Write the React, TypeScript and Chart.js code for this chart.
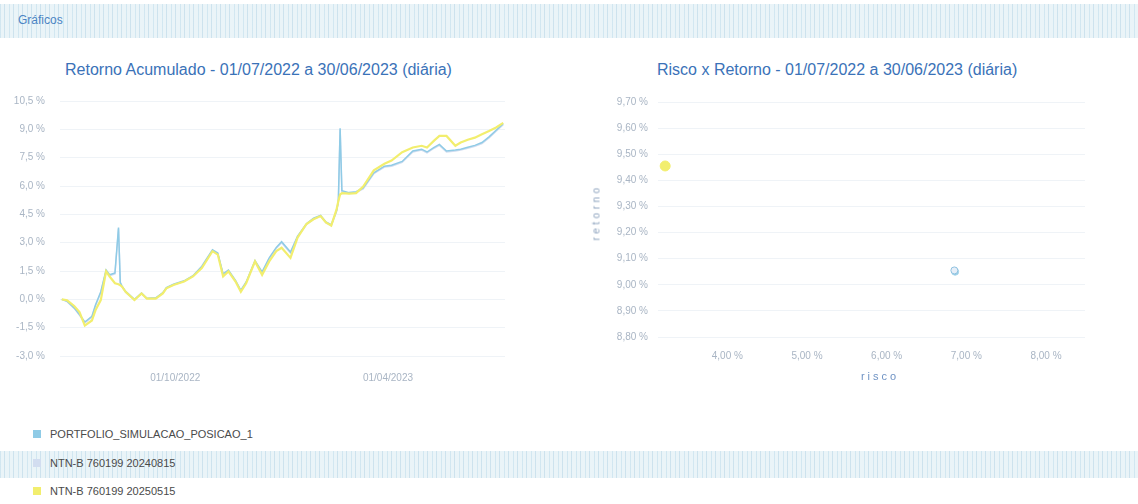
import React, { useEffect, useRef } from 'react';
import { Chart, registerables } from 'chart.js';
Chart.register(...registerables);

const FONT = '"Liberation Sans", Arial, sans-serif';

const seriesNames = ['PORTFOLIO_SIMULACAO_POSICAO_1', 'NTN-B 760199 20240815', 'NTN-B 760199 20250515'];
const seriesColors = ['#8fcbe6', '#d2ddf0', '#f2ee6e'];

// trading-day index from 01/07/2022 (0) to 30/06/2023 (249)
const dayIndex = [0, 3, 7, 10, 13, 17, 19, 22, 25, 27, 30, 32, 33, 34, 36, 41, 45, 48, 53, 57, 59, 63, 69, 74, 79, 85, 88, 91, 94, 98, 101, 104, 109, 113, 117, 121, 124, 129, 133, 138, 142, 146, 149, 152, 155, 156, 157, 158, 162, 166, 170, 176, 182, 186, 192, 198, 203, 206, 210, 213, 217, 222, 225, 229, 233, 237, 241, 245, 249];

const portfolio = [0.00, -0.10, -0.45, -0.80, -1.20, -0.90, -0.30, 0.40, 1.55, 1.30, 1.40, 3.80, 0.90, 0.70, 0.42, 0.00, 0.33, 0.06, 0.08, 0.35, 0.62, 0.80, 0.98, 1.25, 1.75, 2.62, 2.45, 1.35, 1.55, 1.00, 0.48, 0.92, 2.05, 1.45, 2.20, 2.75, 3.05, 2.50, 3.35, 4.00, 4.30, 4.45, 4.10, 3.95, 4.70, 5.20, 9.05, 5.75, 5.65, 5.70, 5.90, 6.70, 7.05, 7.10, 7.30, 7.85, 7.95, 7.80, 8.05, 8.20, 7.85, 7.90, 7.95, 8.05, 8.15, 8.30, 8.60, 8.95, 9.30];

const ntnb2024 = [0.00, -0.12, -0.48, -0.85, -1.25, -0.95, -0.35, 0.35, 1.50, 1.25, 1.35, 3.75, 0.85, 0.66, 0.38, -0.03, 0.30, 0.03, 0.05, 0.32, 0.58, 0.77, 0.95, 1.22, 1.70, 2.58, 2.40, 1.30, 1.50, 0.96, 0.44, 0.88, 2.00, 1.40, 2.15, 2.70, 3.00, 2.45, 3.30, 3.95, 4.25, 4.40, 4.05, 3.90, 4.65, 5.15, 9.00, 5.70, 5.60, 5.65, 5.85, 6.65, 7.00, 7.05, 7.25, 7.80, 7.90, 7.75, 8.00, 8.15, 7.80, 7.85, 7.90, 8.00, 8.10, 8.25, 8.55, 8.90, 9.25];

const ntnb2025 = [0.00, -0.05, -0.35, -0.67, -1.39, -1.12, -0.58, -0.04, 1.48, 1.21, 0.85, 0.80, 0.75, 0.67, 0.40, -0.04, 0.31, 0.04, 0.04, 0.31, 0.58, 0.76, 0.94, 1.21, 1.66, 2.55, 2.37, 1.21, 1.48, 0.94, 0.40, 0.85, 2.01, 1.30, 2.01, 2.55, 2.73, 2.19, 3.27, 3.99, 4.24, 4.41, 4.07, 3.90, 4.76, 5.20, 5.55, 5.62, 5.60, 5.62, 5.97, 6.83, 7.18, 7.35, 7.79, 8.04, 8.13, 8.04, 8.40, 8.65, 8.65, 8.13, 8.30, 8.45, 8.56, 8.74, 8.91, 9.10, 9.34];

const xTickIdx = [64, 184];
const xTickLabels = ['01/10/2022', '01/04/2023'];

// Risco x Retorno (%)
const riscoValues = [6.86, 6.85, 3.22];
const retornoValues = [9.05, 9.055, 9.455];
const riscoTicks = [4, 5, 6, 7, 8];
const retornoTicks = [8.8, 8.9, 9.0, 9.1, 9.2, 9.3, 9.4, 9.5, 9.6, 9.7];

const stripes =
  'repeating-linear-gradient(90deg, rgba(190,220,235,0.55) 0px, rgba(190,220,235,0.55) 1px, rgba(255,255,255,0) 1px, rgba(255,255,255,0) 4px, rgba(170,205,225,0.45) 4px, rgba(170,205,225,0.45) 5px, rgba(255,255,255,0) 5px, rgba(255,255,255,0) 9px), #eaf4f8';

export default function App() {
  const lineRef = useRef<HTMLCanvasElement>(null);
  const scatRef = useRef<HTMLCanvasElement>(null);

  useEffect(() => {
    document.body.style.margin = '0';
    const tickFont = { family: FONT, size: 10 };
    const tickColor = '#a9b5c4';
    const gridColor = '#eff3f7';

    const series = [portfolio, ntnb2024, ntnb2025];
    const lc = new Chart(lineRef.current!, {
      type: 'line',
      data: {
        datasets: series.map((s, k) => ({
          label: seriesNames[k],
          data: dayIndex.map((d, i) => ({ x: d, y: s[i] })),
          borderColor: seriesColors[k],
          backgroundColor: seriesColors[k],
          borderWidth: k === 2 ? 2.2 : 1.5,
          pointRadius: 0,
          tension: 0,
          order: k === 2 ? 0 : k === 0 ? 1 : 2,
        })),
      },
      options: {
        responsive: false,
        animation: false,
        layout: { padding: { top: 9, right: 10, left: 0, bottom: 0 } },
        plugins: { legend: { display: false }, tooltip: { enabled: false } },
        scales: {
          x: {
            type: 'linear',
            min: -1,
            max: 250,
            grid: { display: false },
            border: { display: false },
            afterBuildTicks: (axis: any) => {
              axis.ticks = xTickIdx.map((v) => ({ value: v }));
            },
            afterFit: (axis: any) => {
              axis.height = 34;
            },
            ticks: {
              font: tickFont,
              color: tickColor,
              padding: 8,
              maxRotation: 0,
              autoSkip: false,
              callback: (v: any) => {
                const i = xTickIdx.indexOf(Number(v));
                return i >= 0 ? xTickLabels[i] : '';
              },
            },
          },
          y: {
            min: -3,
            max: 10.5,
            grid: { color: gridColor, drawTicks: false },
            border: { display: false },
            afterFit: (axis: any) => {
              axis.width = 60;
            },
            ticks: {
              stepSize: 1.5,
              font: tickFont,
              color: tickColor,
              padding: 15,
              callback: (v: any) => Number(v).toFixed(1).replace('.', ',') + ' %',
            },
          },
        },
      },
    } as any);

    const sc = new Chart(scatRef.current!, {
      type: 'scatter',
      data: {
        datasets: [0, 1, 2].map((k) => ({
          label: seriesNames[k],
          data: [{ x: riscoValues[k], y: retornoValues[k] }],
          backgroundColor: k === 1 ? '#e6eef8' : seriesColors[k],
          borderColor: k === 0 ? '#a9d5ea' : k === 1 ? '#8fc2e0' : '#f2ee6e',
          borderWidth: 1,
          pointRadius: k === 2 ? 5 : 3.5,
          order: k === 2 ? 0 : k === 0 ? 2 : 1,
        })),
      },
      options: {
        responsive: false,
        animation: false,
        layout: { padding: { top: 11, right: 15, left: 0, bottom: 0 } },
        plugins: { legend: { display: false }, tooltip: { enabled: false } },
        scales: {
          x: {
            type: 'linear',
            min: 3.13,
            max: 8.49,
            grid: { display: false },
            border: { display: false },
            afterBuildTicks: (axis: any) => {
              axis.ticks = riscoTicks.map((v) => ({ value: v }));
            },
            afterFit: (axis: any) => {
              axis.height = 53;
            },
            ticks: {
              font: tickFont,
              color: tickColor,
              padding: 5,
              maxRotation: 0,
              autoSkip: false,
              callback: (v: any) => Number(v).toFixed(2).replace('.', ',') + ' %',
            },
          },
          y: {
            min: 8.8,
            max: 9.7,
            grid: { color: gridColor, drawTicks: false },
            border: { display: false },
            afterBuildTicks: (axis: any) => {
              axis.ticks = retornoTicks.map((v) => ({ value: v }));
            },
            afterFit: (axis: any) => {
              axis.width = 78;
            },
            ticks: {
              font: tickFont,
              color: tickColor,
              padding: 10,
              callback: (v: any) => Number(v).toFixed(2).replace('.', ',') + ' %',
            },
          },
        },
      },
    } as any);

    return () => {
      lc.destroy();
      sc.destroy();
    };
  }, []);

  const titleStyle: React.CSSProperties = {
    position: 'absolute',
    fontFamily: FONT,
    fontSize: 16,
    color: '#3a72b8',
    whiteSpace: 'nowrap',
    lineHeight: '18px',
  };

  return (
    <div style={{ position: 'relative', width: 1138, height: 504, background: '#ffffff', overflow: 'hidden', fontFamily: FONT }}>
      <div style={{ position: 'absolute', left: 0, top: 4, width: 1138, height: 34, background: stripes }} />
      <div style={{ position: 'absolute', left: 18, top: 13, fontSize: 12, color: '#4a84c4', fontFamily: FONT }}>Gráficos</div>

      <div style={{ ...titleStyle, left: 65, top: 61 }}>Retorno Acumulado - 01/07/2022 a 30/06/2023 (diária)</div>
      <div style={{ ...titleStyle, left: 657, top: 61 }}>Risco x Retorno - 01/07/2022 a 30/06/2023 (diária)</div>

      <canvas ref={lineRef} width={515} height={310} style={{ position: 'absolute', left: 0, top: 80, width: 515, height: 310 }} />
      <canvas ref={scatRef} width={520} height={304} style={{ position: 'absolute', left: 580, top: 86, width: 520, height: 304 }} />

      <div
        style={{
          position: 'absolute',
          left: 596 - 40,
          top: 214 - 7,
          width: 80,
          textAlign: 'center',
          transform: 'rotate(-90deg)',
          fontSize: 10,
          letterSpacing: 3.5,
          color: '#8aa0bc',
        }}
      >
        retorno
      </div>
      <div style={{ position: 'absolute', left: 830, top: 370, width: 100, textAlign: 'center', fontSize: 11, letterSpacing: 3, color: '#6f93c4' }}>
        risco
      </div>

      <div style={{ position: 'absolute', left: 0, top: 451, width: 1138, height: 27, background: stripes }} />
      {seriesNames.map((n, i) => (
        <div key={n} style={{ position: 'absolute', left: 33, top: 428 + i * 28.5, display: 'flex', alignItems: 'center', fontSize: 11, color: '#4a4a4a' }}>
          <span style={{ display: 'inline-block', width: 8, height: 8, background: seriesColors[i], marginRight: 9 }} />
          {n}
        </div>
      ))}
    </div>
  );
}
